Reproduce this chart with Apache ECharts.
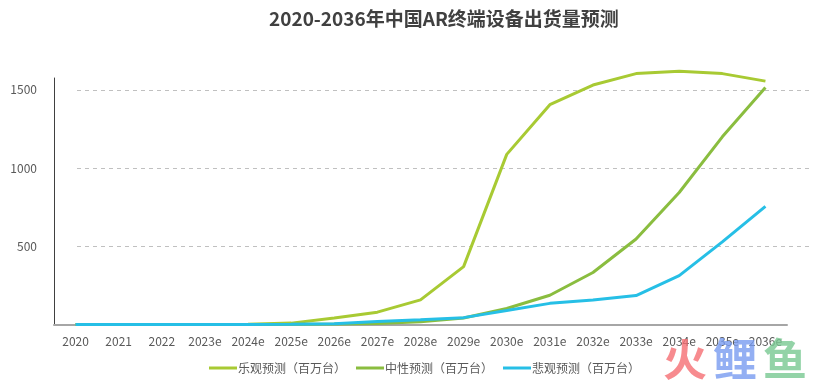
<!DOCTYPE html>
<html>
<head>
<meta charset="utf-8">
<script src="https://cdn.jsdelivr.net/npm/echarts@6/dist/echarts.min.js"></script>
<style>html,body{margin:0;padding:0;background:#fff;}#c{width:833px;height:381px;}</style>
</head>
<body>
<div id="c"></div>
<script>
const categories = ['2020','2021','2022','2023e','2024e','2025e','2026e','2027e','2028e','2029e','2030e','2031e','2032e','2033e','2034e','2035e','2036e'];
const optimistic = [3,3,3,3,4,12,45,82,160,372,1088,1405,1530,1603,1618,1603,1555];
const neutral    = [3,3,3,3,3,4,6,10,20,45,105,190,335,548,845,1200,1515];
const pessimistic= [3,3,3,3,3,4,8,22,33,47,92,138,160,188,315,530,756];
const seriesNames = ['乐观预测（百万台）','中性预测（百万台）','悲观预测（百万台）'];

const chart = echarts.init(document.getElementById('c'), null, {renderer:'canvas'});
const font = '"Noto Sans CJK SC","Noto Sans",sans-serif';
chart.setOption({
  animation:false,
  backgroundColor:'#fff',
  title:{
    text:'2020-2036年中国AR终端设备出货量预测',
    left:264, top:4,
    textStyle:{fontFamily:font,fontSize:19,fontWeight:'bold',color:'#404040'}
  },
  legend:{
    bottom:2, left:204,
    itemWidth:28, itemHeight:3, itemGap:10, icon:'rect',
    textStyle:{fontFamily:font,fontSize:12,color:'#595959',padding:[0,0,0,-4]},
    data:seriesNames
  },
  grid:[
    {left:54,right:46,top:78,bottom:56,containLabel:false},
    {left:77,right:20,top:78,bottom:56,containLabel:false}
  ],
  xAxis:[
    {type:'category',gridIndex:0,data:categories,boundaryGap:true,
     axisLine:{lineStyle:{color:'#a6a6a6',width:2}},
     axisTick:{show:false},
     axisLabel:{fontFamily:font,fontSize:12,color:'#595959',margin:10,interval:0}},
    {type:'category',gridIndex:1,data:categories,show:false}
  ],
  yAxis:[
    {type:'value',gridIndex:0,min:0,max:1575,interval:500,
     axisLine:{show:true,lineStyle:{color:'#404040',width:1}},
     axisTick:{show:false},
     splitLine:{show:false},
     axisLabel:{fontFamily:font,fontSize:12,color:'#595959',margin:17,showMaxLabel:false,showMinLabel:false,
       formatter:function(v){return String(v);}}},
    {type:'value',gridIndex:1,min:0,max:1575,interval:500,
     axisLine:{show:false},axisTick:{show:false},axisLabel:{show:false},
     splitLine:{show:true,showMinLine:false,showMaxLine:false,lineStyle:{color:'#c0c0c0',type:[4,4],width:1}}}
  ],
  series:[
    {name:seriesNames[0],type:'line',data:optimistic,symbol:'none',clip:false,z:3,
     itemStyle:{color:'#a8ca33'},lineStyle:{color:'#a8ca33',width:3}},
    {name:seriesNames[1],type:'line',data:neutral,symbol:'none',clip:false,z:4,
     itemStyle:{color:'#8abd3f'},lineStyle:{color:'#8abd3f',width:3}},
    {name:seriesNames[2],type:'line',data:pessimistic,symbol:'none',clip:false,z:5,
     itemStyle:{color:'#26bfe6'},lineStyle:{color:'#26bfe6',width:3}}
  ],
  graphic:[
    {type:'text',left:663,top:337,z:100,style:{text:'火',font:'bold 44px '+font,fill:'rgba(245,110,115,0.8)'}},
    {type:'text',left:713,top:337,z:100,style:{text:'鲤',font:'bold 44px '+font,fill:'rgba(120,155,240,0.8)'}},
    {type:'text',left:763,top:337,z:100,style:{text:'鱼',font:'bold 44px '+font,fill:'rgba(120,200,145,0.8)'}}
  ]
});
</script>
</body>
</html>
